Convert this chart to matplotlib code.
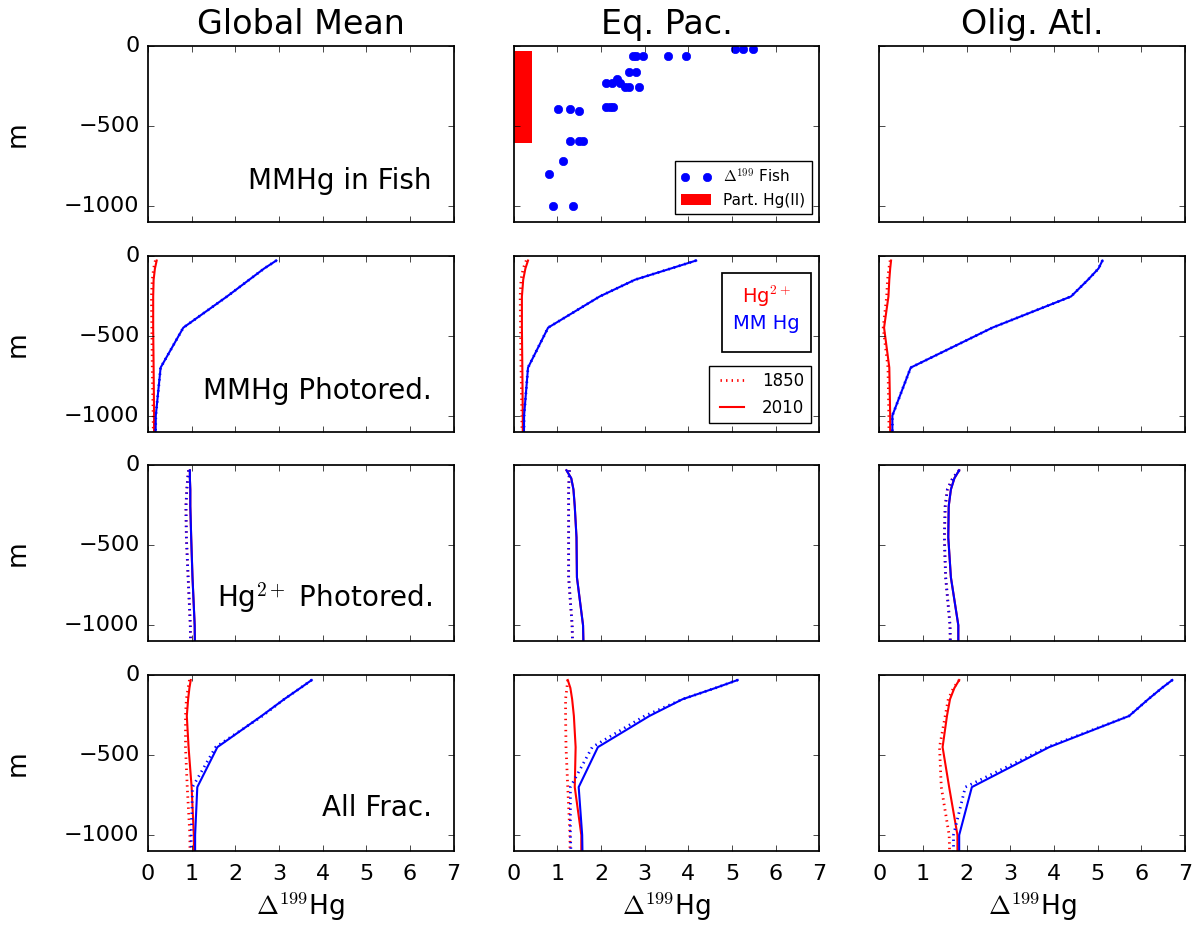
import matplotlib
matplotlib.use("Agg")
import matplotlib.pyplot as plt
from matplotlib.lines import Line2D
from matplotlib.patches import Rectangle

plt.style.use('classic')
plt.rcParams['figure.facecolor'] = 'white'
plt.rcParams['savefig.facecolor'] = 'white'
plt.rcParams['axes.linewidth'] = 1.25

regions = ['Global Mean', 'Eq. Pac.', 'Olig. Atl.']
row_notes = ['MMHg in Fish', 'MMHg Photored.', r'Hg$^{2+}$ Photored.', 'All Frac.']
note_y = [0.233, 0.233, 0.25, 0.244]

# model depth levels (m)
depth = [-30, -80, -150, -255, -450, -700, -1000, -1500]

# --- fish data, Eq. Pac. ---
fish_d199 = [5.06, 5.25, 5.49, 2.73, 2.81, 2.96, 3.53, 3.95, 2.65, 2.81,
             2.12, 2.25, 2.36, 2.43, 2.56, 2.65, 2.88, 2.12, 2.21, 2.27,
             1.01, 1.28, 1.49, 1.28, 1.49, 1.59, 1.13, 0.82, 0.90, 1.36]
fish_depth = [-21, -21, -21, -60, -60, -60, -60, -60, -160, -160,
              -233, -233, -208, -233, -258, -258, -258, -383, -383, -383,
              -396, -396, -406, -596, -596, -596, -717, -804, -1000, -1000]
part_hg_range = [0.0, 0.42]
part_hg_depth = [-30, -610]

# --- MMHg photoreduction (row 2) ---
mm_photo_mm_1850 = [[2.94, 2.66, 2.32, 1.81, 0.81, 0.29, 0.18, 0.15],
                    [4.18, 3.60, 2.78, 1.97, 0.79, 0.33, 0.24, 0.22],
                    [5.11, 5.02, 4.78, 4.39, 2.59, 0.72, 0.30, 0.30]]
mm_photo_mm_2010 = [[2.94, 2.66, 2.32, 1.81, 0.81, 0.29, 0.18, 0.16],
                    [4.18, 3.60, 2.78, 1.97, 0.79, 0.33, 0.24, 0.23],
                    [5.11, 5.02, 4.78, 4.39, 2.59, 0.72, 0.30, 0.30]]
mm_photo_hg_1850 = [[0.17, 0.13, 0.10, 0.08, 0.09, 0.10, 0.12, 0.13],
                    [0.29, 0.22, 0.17, 0.15, 0.16, 0.17, 0.19, 0.20],
                    [0.25, 0.22, 0.19, 0.17, 0.09, 0.20, 0.22, 0.23]]
mm_photo_hg_2010 = [[0.20, 0.16, 0.13, 0.12, 0.12, 0.13, 0.14, 0.14],
                    [0.33, 0.27, 0.22, 0.19, 0.19, 0.20, 0.21, 0.21],
                    [0.27, 0.25, 0.23, 0.21, 0.11, 0.23, 0.25, 0.25]]

# --- Hg2+ photoreduction (row 3) ---
hg_photo_mm_1850 = [[0.93, 0.91, 0.89, 0.87, 0.88, 0.92, 0.97, 0.99],
                    [1.28, 1.27, 1.26, 1.26, 1.26, 1.26, 1.34, 1.38],
                    [1.83, 1.68, 1.56, 1.51, 1.49, 1.52, 1.62, 1.65]]
hg_photo_mm_2010 = [[0.96, 0.96, 0.97, 0.97, 0.99, 1.02, 1.07, 1.09],
                    [1.21, 1.32, 1.37, 1.40, 1.44, 1.45, 1.59, 1.63],
                    [1.83, 1.72, 1.64, 1.59, 1.58, 1.64, 1.81, 1.81]]
hg_photo_hg_1850 = [[0.93, 0.91, 0.89, 0.87, 0.88, 0.92, 0.97, 0.99],
                    [1.28, 1.27, 1.26, 1.26, 1.26, 1.26, 1.34, 1.38],
                    [1.83, 1.68, 1.56, 1.51, 1.49, 1.52, 1.62, 1.65]]
hg_photo_hg_2010 = [[0.96, 0.96, 0.97, 0.97, 0.99, 1.02, 1.07, 1.09],
                    [1.21, 1.32, 1.37, 1.40, 1.44, 1.45, 1.59, 1.63],
                    [1.83, 1.72, 1.64, 1.59, 1.58, 1.64, 1.81, 1.81]]

# --- all fractionation (row 4) ---
all_mm_1850 = [[3.75, 3.49, 3.12, 2.62, 1.55, 1.02, 0.99, 0.98],
               [5.13, 4.62, 3.87, 3.00, 1.80, 1.30, 1.30, 1.36],
               [6.71, 6.47, 6.16, 5.72, 3.85, 1.97, 1.70, 1.70]]
all_mm_2010 = [[3.75, 3.49, 3.12, 2.60, 1.59, 1.13, 1.08, 1.08],
               [5.13, 4.62, 3.87, 3.11, 1.93, 1.49, 1.57, 1.60],
               [6.71, 6.47, 6.16, 5.72, 3.89, 2.12, 1.83, 1.83]]
all_hg_1850 = [[0.95, 0.92, 0.88, 0.86, 0.86, 0.90, 0.96, 0.97],
               [1.24, 1.22, 1.19, 1.19, 1.20, 1.24, 1.29, 1.30],
               [1.83, 1.70, 1.58, 1.51, 1.38, 1.42, 1.60, 1.65]]
all_hg_2010 = [[0.98, 0.95, 0.92, 0.89, 0.93, 1.00, 1.05, 1.07],
               [1.24, 1.30, 1.34, 1.38, 1.42, 1.40, 1.55, 1.55],
               [1.83, 1.72, 1.62, 1.55, 1.45, 1.60, 1.79, 1.79]]

rows = [None,
        (mm_photo_hg_1850, mm_photo_hg_2010, mm_photo_mm_1850, mm_photo_mm_2010),
        (hg_photo_hg_1850, hg_photo_hg_2010, hg_photo_mm_1850, hg_photo_mm_2010),
        (all_hg_1850, all_hg_2010, all_mm_1850, all_mm_2010)]

fig, axes = plt.subplots(4, 3, figsize=(11.96, 9.31), dpi=100)
fig.subplots_adjust(left=0.1237, right=0.9908, top=0.9506, bottom=0.0859,
                    wspace=0.196, hspace=0.193)

for r in range(4):
    for c in range(3):
        ax = axes[r, c]
        if r > 0:
            h50, h10, m50, m10 = rows[r]
            ax.plot(h50[c], depth, 'r:', lw=2)
            ax.plot(h10[c], depth, 'r-', lw=1.5)
            ax.plot(m50[c], depth, 'b:', lw=2)
            ax.plot(m10[c], depth, 'b-', lw=1.5)
        ax.set_xlim(0, 7)
        ax.set_ylim(-1100, 0)
        ax.set_yticks([0, -500, -1000])
        ax.set_xticks(range(8))
        ax.tick_params(labelsize=16)
        ax.tick_params(axis='x', pad=9)
        ax.tick_params(axis='y', pad=6)
        if c == 0:
            ax.set_ylabel('m', fontsize=19, labelpad=24)
            ax.text(0.928, note_y[r], row_notes[r], transform=ax.transAxes,
                    ha='right', va='center', fontsize=20)
        else:
            ax.set_yticklabels([])
        if r == 3:
            ax.set_xlabel(r'$\Delta^{199}$Hg', fontsize=19)
        else:
            ax.set_xticklabels([])
        if r == 0:
            ax.set_title(regions[c], fontsize=24, y=1.03)

# fish + particulate panel
ax = axes[0, 1]
ax.bar(part_hg_range[0], part_hg_depth[1] - part_hg_depth[0],
       width=part_hg_range[1] - part_hg_range[0], bottom=part_hg_depth[0],
       align='edge', color='r', edgecolor='none', label='Part. Hg(II)')
ax.plot(fish_d199, fish_depth, 'o', color='b', mec='b', ms=6,
        label=r'$\Delta^{199}$ Fish')
ax.legend(loc='lower right', fontsize=11, numpoints=2)

# legends in Eq. Pac. row 2
ax = axes[1, 1]
yr_handles = [Line2D([], [], color='r', ls=':', lw=2),
              Line2D([], [], color='r', ls='-', lw=1.5)]
ax.legend(yr_handles, ['1850', '2010'], loc='lower right', fontsize=12)
ax.add_patch(Rectangle((0.683, 0.455), 0.291, 0.448, transform=ax.transAxes,
                       facecolor='white', edgecolor='k', lw=1.25, zorder=5))
ax.text(0.828, 0.767, r'Hg$^{2+}$', color='r', fontsize=14,
        transform=ax.transAxes, ha='center', va='center', zorder=6)
ax.text(0.828, 0.615, 'MM Hg', color='b', fontsize=14,
        transform=ax.transAxes, ha='center', va='center', zorder=6)

fig.savefig('out.png', dpi=100)
